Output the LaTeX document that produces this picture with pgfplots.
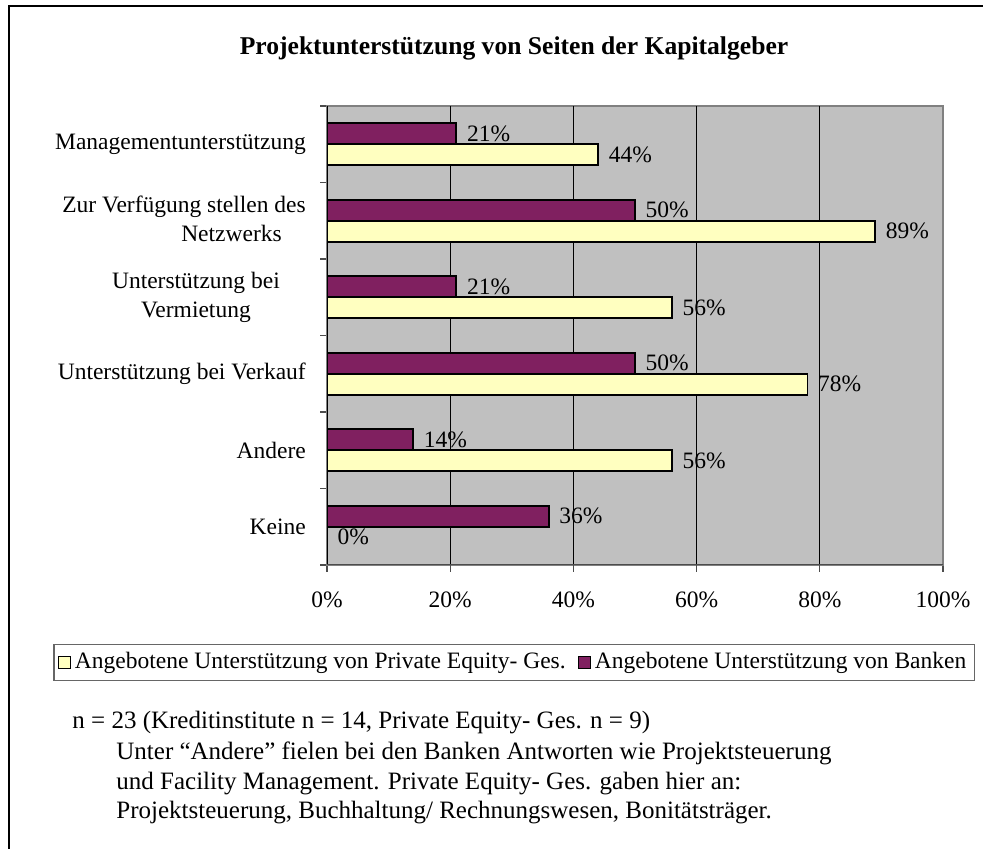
\documentclass[border=0pt]{standalone}
\usepackage{fontspec}
\setmainfont{Liberation Serif}
\usepackage{pgfplots}
\pgfplotsset{compat=1.18}

\definecolor{bankpurple}{RGB}{128,32,96}
\definecolor{peyellow}{RGB}{255,255,192}
\definecolor{plotgray}{RGB}{192,192,192}

\begin{document}
\fontsize{11.75pt}{14.5pt}\selectfont
\begin{tikzpicture}
\useasboundingbox (0,0) rectangle (491.5pt,424.5pt);
% outer frame (right and bottom edges lie outside the page)
\draw[line width=1.25pt] (4.5pt,-20pt) rectangle (509.5pt,421.5pt);

\node[font=\fontsize{12.8pt}{15pt}\selectfont\bfseries] at (257pt,400.5pt)
  {Projektunterstützung von Seiten der Kapitalgeber};

\begin{axis}[
  at={(163.5pt,142pt)}, anchor=south west,
  scale only axis, width=308pt, height=229.5pt,
  xbar, bar width=10.5pt,
  xmin=0, xmax=100, ymin=-0.5, ymax=5.5,
  /pgf/number format/assume math mode=true,
  axis background/.style={fill=plotgray},
  axis line style={draw=black!50, line width=1pt},
  tick align=outside, tick pos=left,
  major tick length=3.5pt, minor tick length=3.5pt,
  xtick={0,20,...,100},
  xticklabel={\pgfmathprintnumber{\tick}\%},
  x tick style={draw=black!70, line width=0.6pt},
  x tick label style={yshift=-6pt},
  extra x ticks={20,40,60,80},
  extra x tick labels={},
  extra x tick style={grid=major, major grid style={black, line width=0.5pt}},
  ytick={0,...,5},
  minor ytick={-0.5,0.5,...,5.5},
  major y tick style={draw=none},
  minor y tick style={draw=black!70, line width=0.6pt},
  yticklabels={Keine, Andere, Unterstützung bei Verkauf,
    {\begin{tabular}{@{}c@{}}Unterstützung bei\\Vermietung\end{tabular}\hspace*{13pt}},
    {\begin{tabular}{@{}r@{}}Zur Verfügung stellen des\\Netzwerks\hspace*{12pt}\end{tabular}},
    Managementunterstützung},
  y tick label style={xshift=-3pt},
  legend columns=2,
  legend style={at={(0.3036,-0.2124)}, anchor=center, draw=black!60,
    line width=0.75pt, inner sep=2pt,
    /tikz/every even column/.append style={column sep=4pt}},
  point meta=x,
  nodes near coords={\pgfmathprintnumber{\pgfplotspointmeta}\%},
  nodes near coords align={horizontal},
  every node near coord/.append style={black, xshift=1pt},
]
\addplot[bar shift=-5.25pt, fill=peyellow, draw=black, line width=0.9pt,
  legend image code/.code={\draw[fill=peyellow,draw=black,line width=0.6pt] (0pt,-3pt) rectangle (6pt,3pt);}]
  coordinates {(44,5) (89,4) (56,3) (78,2) (56,1) (0,0)};
\addplot[bar shift=5.25pt, fill=bankpurple, draw=black, line width=0.9pt,
  legend image code/.code={\draw[fill=bankpurple,draw=black,line width=0.6pt] (0pt,-3pt) rectangle (6pt,3pt);}]
  coordinates {(21,5) (50,4) (21,3) (50,2) (14,1) (36,0)};
\legend{Angebotene Unterstützung von Private Equity- Ges., Angebotene Unterstützung von Banken}
\draw[black, line width=1pt] (rel axis cs:0,0) -- (rel axis cs:0,1);
\draw[black!70, line width=0.8pt] (rel axis cs:0,0) -- (rel axis cs:1,0);
\end{axis}

\begin{scope}[every node/.style={anchor=base west, inner sep=0pt,
    font=\fontsize{12.5pt}{15pt}\selectfont}]
\node at (36pt,60pt) {n = 23 (Kreditinstitute n = 14, Private Equity- Ges. n = 9)};
\node at (58pt,44.5pt) {Unter “Andere” fielen bei den Banken Antworten wie Projektsteuerung};
\node at (58pt,29.5pt) {und Facility Management. Private Equity- Ges. gaben hier an:};
\node at (58pt,15pt) {Projektsteuerung, Buchhaltung/ Rechnungswesen, Bonitätsträger.};
\end{scope}
\end{tikzpicture}
\end{document}
